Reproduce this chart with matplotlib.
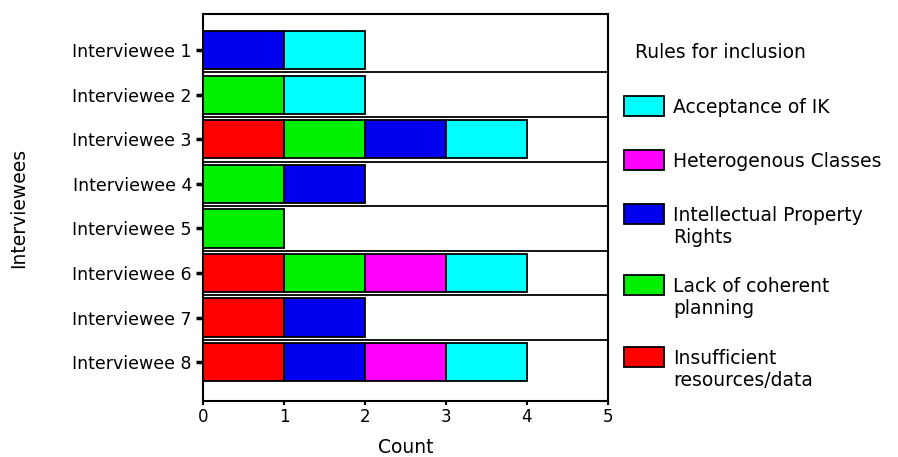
import numpy as np
import matplotlib
matplotlib.use("Agg")
import matplotlib.pyplot as plt
from matplotlib.patches import Rectangle

# data
interviewees = ["Interviewee 1", "Interviewee 2", "Interviewee 3", "Interviewee 4",
                "Interviewee 5", "Interviewee 6", "Interviewee 7", "Interviewee 8"]

# stacking order left to right
rules = ["Insufficient\nresources/data", "Lack of coherent\nplanning",
         "Intellectual Property\nRights", "Heterogenous Classes", "Acceptance of IK"]
colors = ["#FF0000", "#00F000", "#0000EE", "#FF00FF", "#00FFFF"]

insufficient = [0, 0, 1, 0, 0, 1, 1, 1]
lack_planning = [0, 1, 1, 1, 1, 1, 0, 0]
ipr = [1, 0, 1, 1, 0, 0, 1, 1]
heterogenous = [0, 0, 0, 0, 0, 1, 0, 1]
acceptance = [1, 1, 1, 0, 0, 1, 0, 1]

counts = [insufficient, lack_planning, ipr, heterogenous, acceptance]

W, H = 898, 457
fig = plt.figure(figsize=(W / 100, H / 100), dpi=100)
plt.rcParams['font.family'] = ['DejaVu Sans']

ax = fig.add_axes([203 / W, 1 - 401 / H, 405 / W, 387 / H])

y = np.arange(len(interviewees))
left = np.zeros(len(interviewees))
for vals, col in zip(counts, colors):
    vals = np.array(vals, dtype=float)
    mask = vals > 0
    ax.barh(y[mask], vals[mask], left=left[mask], height=0.86, color=col,
            edgecolor='black', linewidth=1.3, zorder=3)
    left += vals

# row separators
for b in y[:-1] + 0.5:
    ax.axhline(b, color='black', linewidth=1.3, zorder=2)

ax.set_xlim(0, 5)
ax.set_ylim(len(interviewees) - 1 + 0.87, -0.81)
ax.set_yticks(y)
ax.set_yticklabels(interviewees)
ax.set_xticks(range(6))

ax.tick_params(axis='y', length=5, width=2.5, pad=3, labelsize=12.5, colors='black')
ax.tick_params(axis='x', length=3, width=1.5, pad=2, labelsize=12, colors='black')
for sp in ax.spines.values():
    sp.set_linewidth(1.5)

ax.set_xlabel("Count", fontsize=13.5)
ax.xaxis.set_label_coords(0.5, -0.095)
ax.set_ylabel("Interviewees", fontsize=13.5)
ax.yaxis.set_label_coords(-0.432, 0.5)

# legend, drawn by hand so the boxes line up with the first text line
fig.text(635 / W, 1 - 53 / H, "Rules for inclusion", fontsize=13.5,
         ha='left', va='center')
legend_y = [106, 160, 214, 285, 357]
for lab, col, yc in zip(rules[::-1], colors[::-1], legend_y):
    fig.add_artist(Rectangle((624 / W, 1 - (yc + 10) / H), 40 / W, 20 / H,
                             facecolor=col, edgecolor='black', linewidth=1.3,
                             transform=fig.transFigure))
    fig.text(673 / W, 1 - (yc - 8) / H, lab, fontsize=13.5, ha='left',
             va='top', linespacing=1.2)

fig.savefig("out.png", dpi=100)
